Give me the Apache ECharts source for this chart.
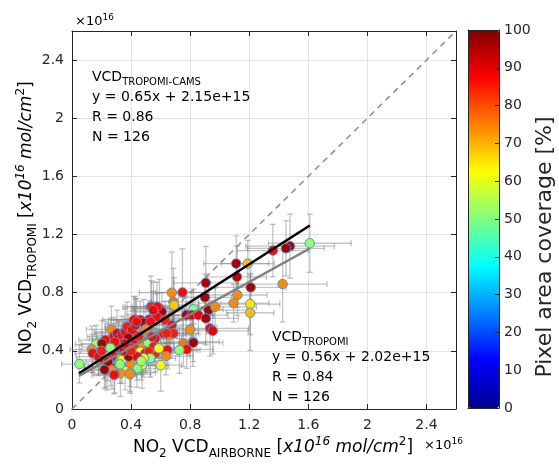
<!DOCTYPE html>
<html><head><meta charset="utf-8">
<script src="https://cdn.jsdelivr.net/npm/echarts@6/dist/echarts.min.js"></script>
<style>html,body{margin:0;padding:0;background:#fff}#c{width:559px;height:464px}</style>
</head><body><div id="c"></div>
<script>
// ---- data (units of 1e16 molec/cm2) ----
const xAirborne = [1.61,1.476,1.449,1.36,1.112,1.19,1.117,1.21,1.426,0.906,0.90,1.12,1.094,1.207,1.207,0.676,0.748,0.687,0.691,0.924,0.969,0.823,0.773,0.811,0.856,0.906,0.935,0.953,0.80,0.818,0.822,0.754,0.777,0.727,0.646,0.637,0.601,0.534,0.551,0.592,0.608,0.427,0.524,0.574,0.63,0.676,0.66,0.687,0.619,0.563,0.563,0.05,0.163,0.136,0.14,0.18,0.215,0.226,0.237,0.267,0.282,0.305,0.316,0.339,0.36,0.373,0.407,0.43,0.418,0.463,0.486,0.531,0.538,0.576,0.55,0.339,0.373,0.407,0.44,0.475,0.515,0.542,0.553,0.463,0.497,0.52,0.531,0.486,0.475,0.44,0.395,0.36,0.395,0.328,0.289,0.26,0.316,0.339,0.271,0.249,0.282,0.384,0.44,0.226,0.203,0.244,0.271,0.588,0.31,0.35,0.42,0.45,0.38,0.29,0.5,0.438,0.40,0.20,0.26,0.47,0.22,0.285,0.64,0.36,0.325,0.393];
const yTropomi = [1.14,1.12,1.105,1.09,1.00,1.00,0.909,0.836,0.859,0.868,0.768,0.784,0.728,0.722,0.662,0.80,0.802,0.737,0.714,0.68,0.703,0.685,0.646,0.646,0.646,0.623,0.554,0.538,0.547,0.463,0.456,0.452,0.41,0.405,0.405,0.364,0.302,0.704,0.692,0.692,0.669,0.616,0.616,0.634,0.612,0.577,0.508,0.52,0.52,0.485,0.383,0.309,0.445,0.41,0.383,0.36,0.337,0.279,0.29,0.547,0.50,0.52,0.485,0.508,0.53,0.566,0.543,0.577,0.612,0.612,0.594,0.60,0.703,0.703,0.68,0.45,0.428,0.45,0.417,0.45,0.456,0.497,0.428,0.394,0.383,0.394,0.349,0.349,0.302,0.279,0.314,0.262,0.25,0.246,0.241,0.29,0.36,0.337,0.36,0.428,0.394,0.36,0.36,0.474,0.45,0.325,0.267,0.417,0.42,0.40,0.48,0.50,0.49,0.46,0.55,0.60,0.40,0.40,0.42,0.33,0.27,0.234,0.52,0.45,0.307,0.238];
const coverage = [52,96,97,87,96,69,95,96,74,95, 96,74,74,65,69,74,87,76,68,96, 74,52,95,89,89,96,87,89,74,74, 96,76,87,52,87,74,63,87,79,87, 95,87,89,87,85,87,74,85,87,87, 85,52,52,74,87,87,89,63,74,74, 87,89,96,87,87,85,87,89,87,87, 96,87,85,87,89,87,96,87,85,74, 52,87,85,63,87,85,52,63,57,52, 74,63,74,74,87,87,52,63,87,87, 89,96,87,87,96,96,74,63,85,89, 87,85,96,87,74,87,85,85,52,54, 96,87,85,89,52,74];
const xErr = [.28,.30,.26,.24,.22,.18,.20,.24,.30,.22, .18,.20,.24,.20,.16,.22,.18,.15,.17,.26, .28,.20,.18,.15,.20,.22,.26,.24,.17,.18, .20,.15,.18,.14,.20,.16,.14,.19,.15,.17, .18,.22,.17,.15,.19,.14,.18,.17,.15,.18, .15,.12,.14,.15,.12,.15,.18,.14,.15,.17, .18,.15,.20,.17,.21,.15,.18,.19,.17,.20, .17,.15,.18,.17,.14,.18,.15,.17,.14,.18, .15,.17,.14,.15,.18,.14,.17,.15,.18,.14, .15,.14,.17,.15,.14,.15,.17,.14,.15,.18, .14,.17,.15,.18,.14,.15,.14,.17,.15,.14, .18,.15,.14,.15,.17,.14,.15,.14,.15,.14, .14,.15,.17,.14,.15,.14];
const yErr = [.20,.22,.19,.18,.19,.16,.21,.18,.26,.25, .16,.14,.13,.21,.26,.28,.30,.23,.19,.16, .13,.14,.13,.16,.13,.18,.19,.16,.18,.17, .13,.16,.13,.16,.13,.13,.18,.21,.18,.20, .13,.16,.13,.16,.13,.13,.16,.13,.13,.16, .13,.13,.13,.16,.13,.13,.13,.13,.16,.16, .13,.16,.13,.13,.16,.17,.13,.18,.16,.13, .16,.13,.18,.17,.13,.13,.16,.13,.16,.13, .16,.13,.13,.16,.13,.13,.13,.13,.16,.13, .16,.13,.13,.16,.13,.13,.13,.16,.13,.16, .13,.13,.16,.13,.16,.13,.13,.13,.13,.13, .13,.13,.16,.13,.16,.16,.13,.13,.13,.13, .13,.13,.13,.13,.13,.13];
const axisTicks = [0, 0.4, 0.8, 1.2, 1.6, 2, 2.4];
const colorbarTicks = [0, 10, 20, 30, 40, 50, 60, 70, 80, 90, 100];
const oneToOne = [[0, 0], [2.6, 2.6]];
const fitCams = [[0.047, 0.246], [1.61, 1.262]];      // y = 0.65x + 0.215
const fitTropomi = [[0.047, 0.228], [1.61, 1.104]];   // y = 0.56x + 0.202
const jet = ['#000090','#0000ff','#0080ff','#00ffff','#80ff80','#ffff00','#ff8000','#ff0000','#800000'];

// ---- build ----
const FONT = 'DejaVu Sans';
const INK = '#262626';
const scatterData = xAirborne.map((x, i) => [x, yTropomi[i], coverage[i]]);
const errData = xAirborne.map((x, i) => [x, yTropomi[i], xErr[i], yErr[i]]);
const fmt = v => axisTicks.some(t => Math.abs(t - v) < 1e-6) ? String(Math.round(v * 10) / 10) : '';

function rich(size, color) {
  const lh = Math.round(size * 1.42);
  return {
    n: {fontSize: size, lineHeight: lh, fontFamily: FONT, color},
    i: {fontSize: size, lineHeight: lh, fontFamily: FONT, color, fontStyle: 'italic'},
    s: {fontSize: Math.round(size * 0.72), lineHeight: Math.round(size * 0.57), verticalAlign: 'bottom', fontFamily: FONT, color},
    p: {fontSize: Math.round(size * 0.72), lineHeight: Math.round(size * 0.7), verticalAlign: 'top', fontFamily: FONT, color},
    ip: {fontSize: Math.round(size * 0.72), lineHeight: Math.round(size * 0.7), verticalAlign: 'top', fontFamily: FONT, color, fontStyle: 'italic'}
  };
}

const mainAxisCommon = {
  type: 'value', min: 0, max: 2.6, interval: 0.4, gridIndex: 0,
  axisLine: {show: true, onZero: false, lineStyle: {color: INK, width: 1}},
  axisTick: {show: true, inside: true, length: 5, lineStyle: {color: INK}},
  splitLine: {show: false}
};

const chart = echarts.init(document.getElementById('c'), null, {renderer: 'canvas'});
chart.setOption({
  animation: false,
  backgroundColor: '#fff',
  grid: [
    {left: 72, top: 31, width: 384, height: 378},
    {left: 468, top: 30, width: 31, height: 378}
  ],
  xAxis: [
    Object.assign({}, mainAxisCommon, {position: 'bottom',
      axisLabel: {fontSize: 14, color: INK, fontFamily: FONT, margin: 9, formatter: fmt, showMaxLabel: false},
      splitLine: {show: true, lineStyle: {color: '#e3e3e3', width: 1}}}),
    Object.assign({}, mainAxisCommon, {position: 'top', axisLabel: {show: false}}),
    {type: 'value', gridIndex: 1, min: 0, max: 1, position: 'bottom', z: 10,
      axisLine: {show: true, onZero: false, lineStyle: {color: INK}}, axisTick: {show: false}, axisLabel: {show: false}, splitLine: {show: false}},
    {type: 'value', gridIndex: 1, min: 0, max: 1, position: 'top', z: 10,
      axisLine: {show: true, onZero: false, lineStyle: {color: INK}}, axisTick: {show: false}, axisLabel: {show: false}, splitLine: {show: false}}
  ],
  yAxis: [
    Object.assign({}, mainAxisCommon, {position: 'left',
      axisLabel: {fontSize: 14, color: INK, fontFamily: FONT, margin: 8, formatter: fmt, showMaxLabel: false},
      splitLine: {show: true, lineStyle: {color: '#e3e3e3', width: 1}}}),
    Object.assign({}, mainAxisCommon, {position: 'right', axisLabel: {show: false}}),
    {type: 'value', gridIndex: 1, min: 0, max: 100, position: 'left', z: 10,
      axisLine: {show: true, onZero: false, lineStyle: {color: INK}}, axisTick: {show: false}, axisLabel: {show: false}, splitLine: {show: false}},
    {type: 'value', gridIndex: 1, min: 0, max: 100, interval: 10, position: 'right', z: 10,
      axisLine: {show: true, onZero: false, lineStyle: {color: INK}},
      axisTick: {show: true, inside: true, length: 4, lineStyle: {color: INK}},
      axisLabel: {fontSize: 14, color: INK, fontFamily: FONT, margin: 5,
        formatter: v => colorbarTicks.includes(v) ? String(v) : ''},
      splitLine: {show: false}}
  ],
  visualMap: {
    type: 'continuous', min: 0, max: 100, dimension: 2, seriesIndex: 2,
    calculable: false, hoverLink: false, realtime: false,
    orient: 'vertical', left: 468, top: 30, itemWidth: 31, itemHeight: 378, padding: 0,
    text: null, z: 1,
    inRange: {color: jet}
  },
  series: [
    {
      type: 'custom', xAxisIndex: 0, yAxisIndex: 0, data: errData, z: 1, silent: true,
      encode: {x: 0, y: 1},
      renderItem: function (params, api) {
        const x = api.value(0), y = api.value(1), xe = api.value(2), ye = api.value(3);
        const l = api.coord([x - xe, y]), r = api.coord([x + xe, y]);
        const b = api.coord([x, y - ye]), t = api.coord([x, y + ye]);
        const c = 3;
        const style = {stroke: 'rgba(125,125,125,0.45)', lineWidth: 1.3};
        return {type: 'group', children: [
          {type: 'line', shape: {x1: l[0], y1: l[1], x2: r[0], y2: r[1]}, style},
          {type: 'line', shape: {x1: l[0], y1: l[1] - c, x2: l[0], y2: l[1] + c}, style},
          {type: 'line', shape: {x1: r[0], y1: r[1] - c, x2: r[0], y2: r[1] + c}, style},
          {type: 'line', shape: {x1: b[0], y1: b[1], x2: t[0], y2: t[1]}, style},
          {type: 'line', shape: {x1: b[0] - c, y1: b[1], x2: b[0] + c, y2: b[1]}, style},
          {type: 'line', shape: {x1: t[0] - c, y1: t[1], x2: t[0] + c, y2: t[1]}, style}
        ]};
      }
    },
    {
      type: 'line', xAxisIndex: 0, yAxisIndex: 0, data: oneToOne, showSymbol: false, silent: true, z: 2,
      lineStyle: {color: '#8c8c8c', width: 1.5, type: [6, 5]}
    },
    {
      type: 'scatter', xAxisIndex: 0, yAxisIndex: 0, data: scatterData, symbolSize: 9.5, z: 3,
      itemStyle: {borderColor: '#4f95d6', borderWidth: 1, opacity: 1}
    },
    {
      type: 'line', xAxisIndex: 0, yAxisIndex: 0, data: fitTropomi, showSymbol: false, silent: true, z: 4,
      lineStyle: {color: '#808080', width: 2.5}
    },
    {
      type: 'line', xAxisIndex: 0, yAxisIndex: 0, data: fitCams, showSymbol: false, silent: true, z: 5,
      lineStyle: {color: '#000000', width: 2.5}
    }
  ],
  graphic: [
    {type: 'text', x: 92, y: 67, z: 100, style: {
      text: '{n|VCD}{s|TROPOMI-CAMS}\n{n|y = 0.65x + 2.15e+15}\n{n|R = 0.86}\n{n|N = 126}',
      rich: rich(14, '#000'), align: 'left', verticalAlign: 'top'}},
    {type: 'text', x: 272, y: 327, z: 100, style: {
      text: '{n|VCD}{s|TROPOMI}\n{n|y = 0.56x + 2.02e+15}\n{n|R = 0.84}\n{n|N = 126}',
      rich: rich(14, '#808080'), align: 'left', verticalAlign: 'top'}},
    {type: 'text', x: 75, y: 22, z: 100, style: {
      text: '{n|×10}{p|16}', rich: rich(13, INK), align: 'left', verticalAlign: 'middle'}},
    {type: 'text', x: 273, y: 448, z: 100, style: {
      text: '{n|NO}{s|2}{n| VCD}{s|AIRBORNE}{n| [}{i|x10}{ip|16}{i| mol/cm}{p|2}{n|]}',
      rich: rich(17, INK), align: 'center', verticalAlign: 'middle'}},
    {type: 'text', x: 424, y: 446, z: 100, style: {
      text: '{n|×10}{p|16}', rich: rich(13, INK), align: 'left', verticalAlign: 'middle'}},
    {type: 'text', x: 27, y: 218, rotation: Math.PI / 2, z: 100, style: {
      text: '{n|NO}{s|2}{n| VCD}{s|TROPOMI}{n| [}{i|x10}{ip|16}{i| mol/cm}{p|2}{n|]}',
      rich: rich(17, INK), align: 'center', verticalAlign: 'middle'}},
    {type: 'text', x: 545, y: 247, rotation: Math.PI / 2, z: 100, style: {
      text: 'Pixel area coverage [%]', fontSize: 22, fontFamily: FONT, fill: INK,
      align: 'center', verticalAlign: 'middle'}}
  ]
});
</script>
</body></html>
